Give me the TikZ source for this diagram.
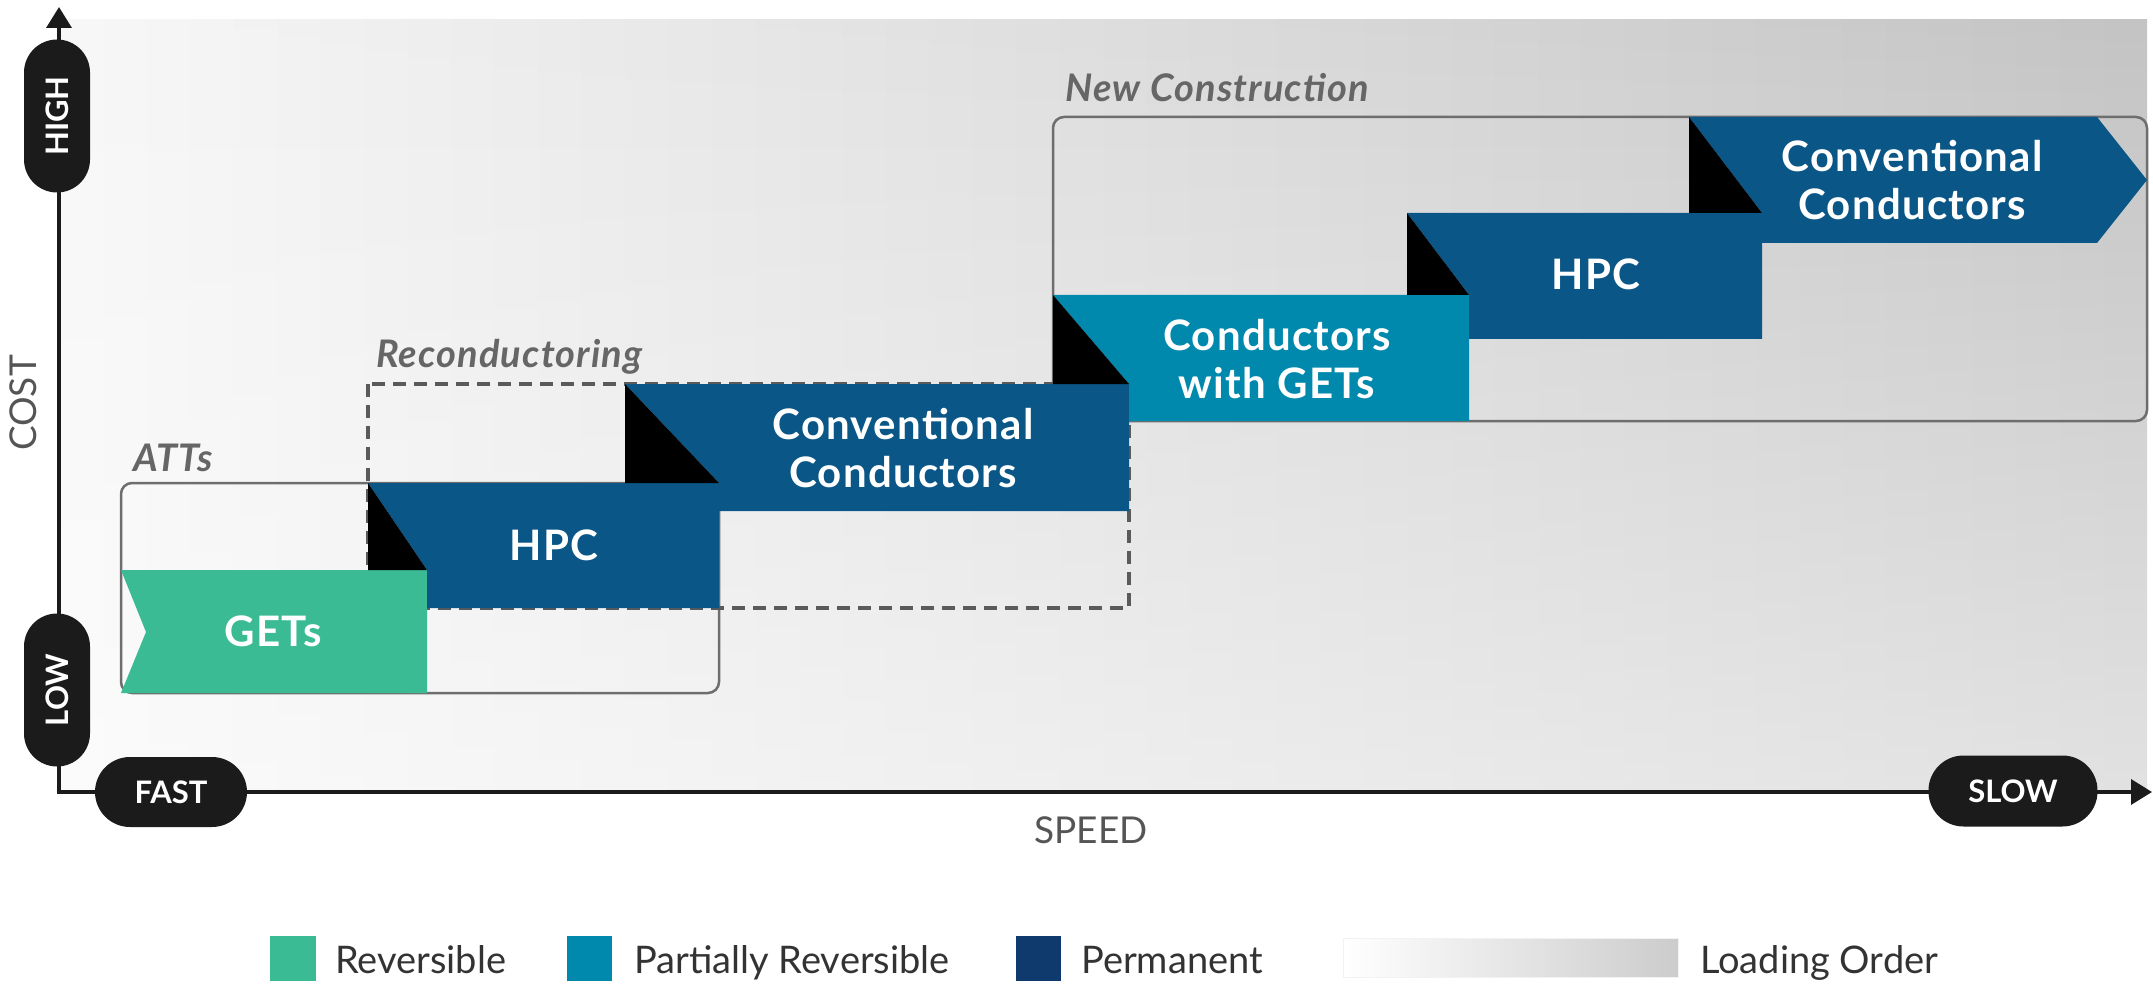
\documentclass[tikz,border=0pt]{standalone}
\usepackage{fontspec}
\setmainfont{Lato}
\newfontfamily\labfont{Lato}[LetterSpace=3]
\usetikzlibrary{arrows.meta}
\definecolor{cgreen}{HTML}{3BBB94}
\definecolor{cteal}{HTML}{0089AD}
\definecolor{cblue}{HTML}{0A5687}
\definecolor{cnavy}{HTML}{0E3A6D}
\definecolor{cpill}{HTML}{1B1B1B}
\definecolor{cbox}{HTML}{6E6E6E}
\definecolor{cdash}{HTML}{5A5A5A}
\definecolor{cgrp}{HTML}{666666}
\definecolor{caxl}{HTML}{555555}
\definecolor{cleg}{HTML}{333333}
\begin{document}
\begin{tikzpicture}[x=1pt,y=-1pt,
  shapelab/.style={text=white,font=\labfont\fontsize{42}{48}\selectfont\bfseries,anchor=base,inner sep=0pt},
  pill/.style={fill=cpill,text=white,font=\fontsize{31}{31}\selectfont\bfseries,inner sep=0pt},
  grplab/.style={text=cgrp,font=\labfont\fontsize{38}{38}\selectfont\bfseries\itshape,anchor=base west,inner sep=0pt},
  axlab/.style={text=caxl,font=\fontsize{37}{37}\selectfont,inner sep=0pt},
  leglab/.style={text=cleg,font=\fontsize{38}{38}\selectfont,anchor=base west,inner sep=0pt},
  grpbox/.style={draw=cbox,line width=2.5pt,rounded corners=11pt},
  dashbox/.style={draw=cdash,line width=3.5pt,dash pattern=on 13pt off 8pt},
  fold/.style={fill=black},
  axisline/.style={draw=cpill,line width=3.5pt,{Triangle[width=25pt,length=21pt]}-{Triangle[width=25pt,length=21pt]}},
]
\useasboundingbox (0,0) rectangle (2153,984);
\fill[white] (0,0) rectangle (2153,984);
% background loading-order gradient (darker to the right and to the top)
\foreach \i in {0,...,47} {
  \pgfmathsetmacro\xa{60+\i*43.479}
  \pgfmathsetmacro\xb{min(60+(\i+1)*43.479+1.5,2147)}
  \pgfmathsetmacro\dt{3+20.5*(\i+0.5)/48}
  \pgfmathsetmacro\db{0.5*\dt}
  \shade[top color=black!\dt, bottom color=black!\db] (\xa,20) rectangle (\xb,790);
}

% group boxes
\draw[grpbox] (121,483) rectangle (719,693);
\draw[grpbox] (1053,117) rectangle (2147,421);
\draw[dashbox] (368,384) rectangle (1129,608);

% steps
\fill[cgreen] (121,570) -- (427,570) -- (427,693) -- (121,693) -- (146,632) -- cycle;
\fill[cblue] (368,483) -- (719,483) -- (719,608) -- (427,608) -- (427,570) -- cycle;
\fill[fold] (368,483) -- (427,570) -- (368,570) -- cycle;
\fill[cblue] (625,384) -- (1129,384) -- (1129,511) -- (719,511) -- (719,483) -- cycle;
\fill[fold] (625,384) -- (719,483) -- (625,483) -- cycle;
\fill[cteal] (1053,295) -- (1469,295) -- (1469,421) -- (1129,421) -- (1129,384) -- cycle;
\fill[fold] (1053,295) -- (1129,384) -- (1053,384) -- cycle;
\fill[cblue] (1407,213) -- (1762,213) -- (1762,339) -- (1469,339) -- (1469,295) -- cycle;
\fill[fold] (1407,213) -- (1469,295) -- (1407,295) -- cycle;
\fill[cblue] (1689,117) -- (2097,117) -- (2147,180) -- (2097,243) -- (1762,243) -- (1762,213) -- cycle;
\fill[fold] (1689,117) -- (1762,213) -- (1689,213) -- cycle;

% step labels
\node[shapelab] (gets) at (273,646) {GETs};
\node[shapelab] (hpca) at (554,560) {HPC};
\node[shapelab] (conva1) at (903,439) {Conventional};
\node[shapelab] (conva2) at (903,487) {Conductors};
\node[shapelab] (cwg1) at (1277,350) {Conductors};
\node[shapelab] (cwg2) at (1277,398) {with GETs};
\node[shapelab] (hpcb) at (1596,290) {HPC};
\node[shapelab] (convb1) at (1912,172) {Conventional};
\node[shapelab] (convb2) at (1912,220) {Conductors};

% group labels
\node[grplab] (atts) at (133,471) {ATTs};
\node[grplab] (recon) at (376,367) {Reconductoring};
\node[grplab] (newc) at (1065,102) {New Construction};

% axes
\coordinate (origin) at (59,792);
\coordinate (ytip) at (59,7);
\coordinate (xtip) at (2152,792);
\draw[axisline] (ytip) -- (origin) -- (xtip);

\node[pill,rotate=90,minimum width=153pt,minimum height=66pt,rounded corners=33pt] (high) at (57,116) {HIGH};
\node[pill,rotate=90,minimum width=153pt,minimum height=66pt,rounded corners=33pt] (low) at (57,690) {LOW};
\node[pill,minimum width=152pt,minimum height=70pt,rounded corners=35pt] (fast) at (171,792) {FAST};
\node[pill,minimum width=169pt,minimum height=71pt,rounded corners=35pt] (slow) at (2013,791) {SLOW};

\node[axlab,rotate=90] (cost) at (23,403) {COST};
\node[axlab] (speed) at (1091,830) {SPEED};

% legend
\fill[cgreen] (270,936) rectangle (316,981);
\node[leglab] (lrev) at (335,973) {Reversible};
\fill[cteal] (567,936) rectangle (612,981);
\node[leglab] (lprev) at (634,973) {Partially Reversible};
\fill[cnavy] (1016,936) rectangle (1061,981);
\node[leglab] (lperm) at (1081,973) {Permanent};
\shade[left color=white, right color=black!20] (1343,938) rectangle (1678,977);
\draw[black!5, line width=1pt] (1343,938) rectangle (1678,977);
\node[leglab] (lload) at (1700,973) {Loading Order};
\end{tikzpicture}
\end{document}
